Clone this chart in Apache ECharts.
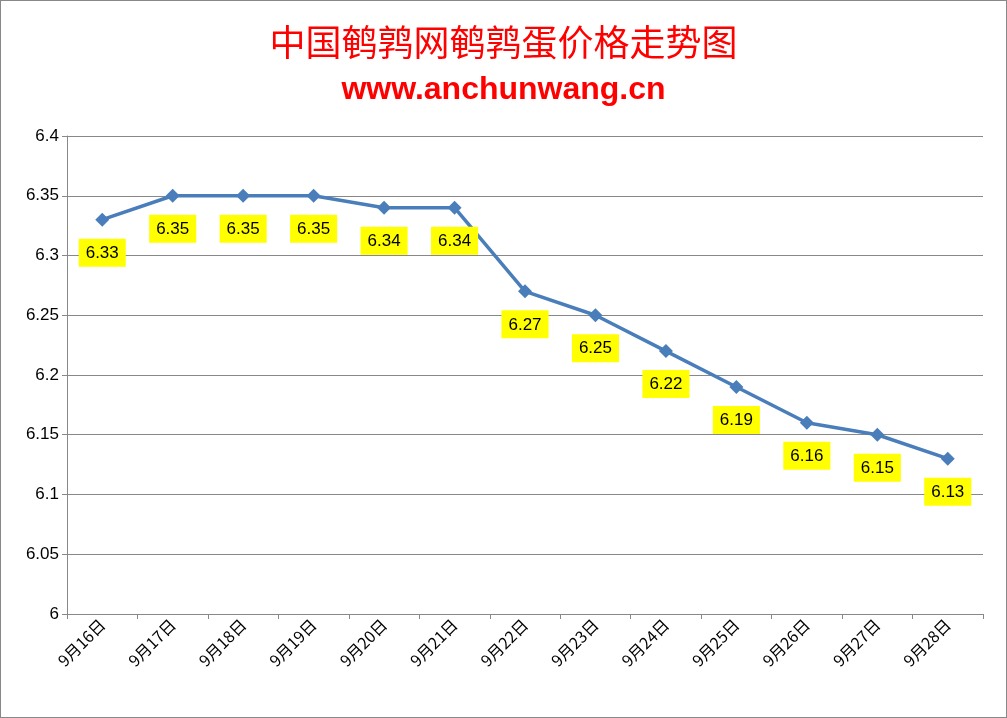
<!DOCTYPE html>
<html><head><meta charset="utf-8">
<script src="https://cdn.jsdelivr.net/npm/echarts@6/dist/echarts.min.js"></script>
<style>html,body{margin:0;padding:0;background:#fff}#c{width:1007px;height:718px;box-sizing:border-box;border:1px solid #888}</style>
</head><body><div id="c"></div>
<script>
const categories=['9月16日','9月17日','9月18日','9月19日','9月20日','9月21日','9月22日','9月23日','9月24日','9月25日','9月26日','9月27日','9月28日'];
const prices=[6.33,6.35,6.35,6.35,6.34,6.34,6.27,6.25,6.22,6.19,6.16,6.15,6.13];
const yTicks={min:6,max:6.4,interval:0.05};
const chart=echarts.init(document.getElementById('c'));
chart.setOption({
 animation:false,
 title:[{text:'中国鹌鹑网鹌鹑蛋价格走势图',left:'center',top:18,textStyle:{color:'#ff0000',fontSize:36,fontWeight:'normal',fontFamily:'Noto Sans CJK SC'}},
  {text:'www.anchunwang.cn',left:'center',top:68,textStyle:{color:'#ff0000',fontSize:32,fontWeight:'bold',fontFamily:'Liberation Sans'}}],
 grid:{left:66,right:23,top:135,bottom:103},
 xAxis:{type:'category',data:categories,boundaryGap:true,
  axisLine:{lineStyle:{color:'#888'}},axisTick:{show:true,lineStyle:{color:'#888'}},
  axisLabel:{rotate:45,color:'#000',fontSize:16,fontFamily:'Noto Sans CJK SC',margin:8}},
 yAxis:{type:'value',min:yTicks.min,max:yTicks.max,interval:yTicks.interval,
  axisLine:{show:true,lineStyle:{color:'#888'}},axisTick:{show:true,lineStyle:{color:'#888'}},
  splitLine:{lineStyle:{color:'#888',width:1}},
  axisLabel:{color:'#000',fontSize:17,fontFamily:'Liberation Sans',formatter:v=>String(+v.toFixed(2))}},
 series:[{type:'line',data:prices,symbol:'diamond',symbolSize:14,
  lineStyle:{color:'#4a7ebb',width:3.5},itemStyle:{color:'#4a7ebb'},
  label:{show:true,position:'bottom',distance:12,backgroundColor:'#ffff00',color:'#000',fontSize:17,fontFamily:'Liberation Sans',padding:[6,7,5,7],formatter:p=>p.value.toFixed(2)}}]
});
</script></body></html>
